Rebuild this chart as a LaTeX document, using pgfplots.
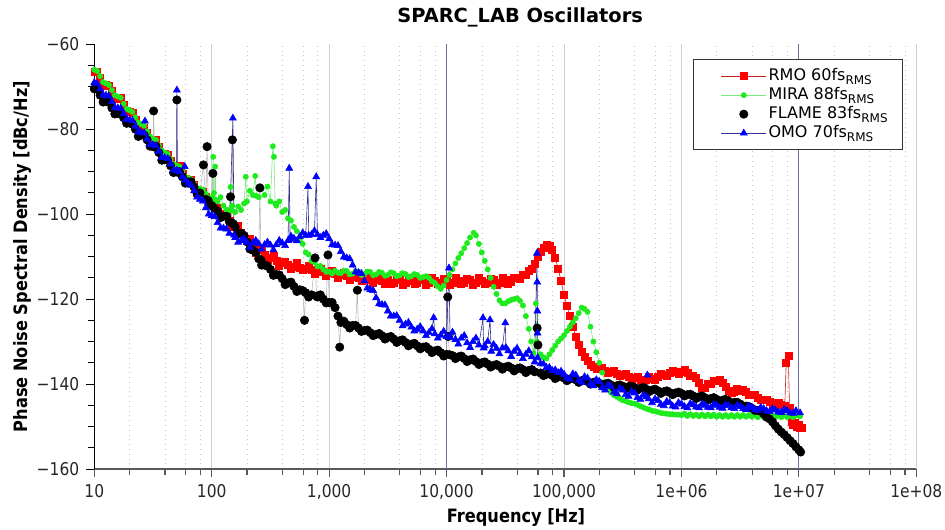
\documentclass[border=0pt]{standalone}
\usepackage{fontspec}
\setmainfont{DejaVu Sans}
\newfontfamily\condfont{DejaVu Sans}[FakeStretch=0.88]
\usepackage{pgfplots}
\pgfplotsset{compat=1.18}
\definecolor{rmoline}{RGB}{200,30,30}
\definecolor{miragreen}{RGB}{30,235,30}
\definecolor{miraline}{RGB}{120,235,120}
\definecolor{omoline}{RGB}{50,50,150}
\definecolor{omoblue}{RGB}{0,0,255}
\definecolor{majgrid}{RGB}{205,205,228}
\definecolor{darkgrid}{RGB}{110,110,160}
\begin{document}
\begin{tikzpicture}
\useasboundingbox (-47.15pt,-30pt) rectangle (425.35pt,234.5pt);
\begin{axis}[
  at={(0,0)}, anchor=south west,
  scale only axis, width=411pt, height=212.35pt,
  xmode=log, xmin=10, xmax=1e8, ymin=-160, ymax=-60,
  axis lines=left, axis line style={-},
  x axis line style={black!65, line width=0.7pt},
  y axis line style={black, line width=0.5pt},
  tick align=outside,
  major tick length=4pt, minor tick length=3pt,
  xtick={10,100,1000,10000,100000,1e6,1e7,1e8},
  xticklabels={10,100,{1,000},{10,000},{100,000},1e+06,1e+07,1e+08},
  minor xtick={20,40,60,80,200,400,600,800,2000,4000,6000,8000,2e4,4e4,6e4,8e4,2e5,4e5,6e5,8e5,2e6,4e6,6e6,8e6,2e7,4e7,6e7,8e7},
  ytick={-160,-140,-120,-100,-80,-60},
  yticklabels={−160,−140,−120,−100,−80,−60},
  minor ytick={-155,-150,-145,-135,-130,-125,-115,-110,-105,-95,-90,-85,-75,-70,-65},
  xtick style={black!65, line width=0.6pt},
  ytick style={black, line width=0.5pt},
  xmajorgrids=true, xminorgrids=true,
  major grid style={majgrid, line width=0.5pt},
  minor grid style={gray!50, dotted, line width=0.4pt},
  extra x ticks={1e4,1e7},
  extra x tick labels={},
  extra x tick style={grid=major, major grid style={darkgrid, line width=0.6pt}},
  tick label style={font=\condfont\fontsize{8.8}{10}\selectfont, black!85},
  every axis title shift=0pt,
  title={SPARC\_LAB Oscillators},
  title style={at={(axis description cs:0.518,1.051)}, anchor=base, yshift=0pt, inner sep=0pt, font=\bfseries\fontsize{9.7}{11}\selectfont},
  xlabel={Frequency [Hz]},
  xlabel style={at={(axis description cs:0.513,-0.125)}, anchor=base, inner sep=0pt, font=\condfont\bfseries\fontsize{9.2}{11}\selectfont},
  ylabel={Phase Noise Spectral Density [dBc/Hz]},
  ylabel style={at={(axis description cs:-0.0815,0.5)}, anchor=base, inner sep=0pt, font=\condfont\bfseries\fontsize{9.2}{11}\selectfont},
  legend style={at={(0.984,0.965)}, anchor=north east, draw=black!80, line width=0.5pt, fill=white,
    font=\fontsize{8}{9.5}\selectfont, inner xsep=6pt, inner ysep=3.5pt, row sep=0pt,
    cells={anchor=west}, nodes={inner sep=1pt, text height=6.0pt, text depth=1.5pt}},
  legend image code/.code={\path (-7.5pt,0pt) (22.5pt,0pt); \draw[mark repeat=2,mark phase=2,#1] plot coordinates {(0pt,0pt) (11.25pt,0pt) (22.5pt,0pt)};},
]
% RMO
\addplot[rmoline, line width=0.3pt, mark=square*, mark size=1.75pt, mark options={fill=red, draw=red, solid}] table {
1e1 -66.5
1.059e1 -66.4
1.122e1 -68.0
1.189e1 -69.7
1.259e1 -69.5
1.334e1 -69.7
1.413e1 -71.0
1.496e1 -72.6
1.585e1 -72.8
1.679e1 -72.5
1.778e1 -74.3
1.884e1 -75.6
1.995e1 -76.0
2.113e1 -76.2
2.239e1 -77.8
2.371e1 -79.6
2.512e1 -79.3
2.661e1 -79.6
2.818e1 -80.8
2.985e1 -82.5
3.162e1 -82.5
3.350e1 -82.5
3.548e1 -84.2
3.758e1 -86.0
3.981e1 -85.8
4.217e1 -86.0
4.467e1 -87.5
4.732e1 -89.0
5.012e1 -89.0
5.309e1 -88.7
5.623e1 -90.5
5.957e1 -91.7
6.310e1 -92.0
6.683e1 -91.9
7.079e1 -93.2
7.499e1 -94.9
7.943e1 -94.5
8.414e1 -94.7
8.913e1 -95.8
9.441e1 -97.3
1e2 -97.2
1.059e2 -97.0
1.122e2 -98.5
1.189e2 -100.2
1.259e2 -100.0
1.334e2 -100.2
1.413e2 -101.5
1.496e2 -103.0
1.585e2 -103.0
1.679e2 -102.7
1.778e2 -104.5
1.884e2 -105.7
1.995e2 -106.0
2.113e2 -105.9
2.239e2 -107.3
2.371e2 -109.0
2.512e2 -108.5
2.661e2 -108.5
2.818e2 -109.5
2.985e2 -110.7
3.162e2 -110.3
3.350e2 -109.8
3.548e2 -111.0
3.758e2 -112.2
3.981e2 -111.5
4.217e2 -111.2
4.467e2 -112.0
4.732e2 -112.9
5.012e2 -112.3
5.309e2 -111.5
5.623e2 -112.6
5.957e2 -113.2
6.310e2 -112.8
6.683e2 -112.2
7.079e2 -113.0
7.499e2 -114.0
7.943e2 -113.2
8.414e2 -112.9
8.913e2 -113.5
9.441e2 -114.5
1e3 -113.8
1.059e3 -113.3
1.122e3 -114.0
1.189e3 -114.9
1.259e3 -114.3
1.334e3 -113.9
1.413e3 -114.6
1.496e3 -115.4
1.585e3 -114.8
1.679e3 -114.3
1.778e3 -115.0
1.884e3 -115.8
1.995e3 -115.2
2.113e3 -114.7
2.239e3 -115.4
2.371e3 -116.2
2.512e3 -115.5
2.661e3 -115.0
2.818e3 -115.6
2.985e3 -116.3
3.162e3 -115.4
3.350e3 -116.5
3.548e3 -116.1
3.758e3 -115.1
3.981e3 -115.5
4.217e3 -116.6
4.467e3 -116.2
4.732e3 -115.0
5.012e3 -115.6
5.309e3 -116.5
5.623e3 -116.1
5.957e3 -115.1
6.310e3 -115.5
6.683e3 -116.6
7.079e3 -116.2
7.499e3 -115.0
7.943e3 -115.6
8.414e3 -116.5
8.913e3 -116.1
9.441e3 -115.1
1e4 -115.5
1.059e4 -116.6
1.122e4 -116.2
1.189e4 -115.0
1.259e4 -115.6
1.334e4 -116.5
1.413e4 -116.1
1.496e4 -115.1
1.585e4 -115.5
1.679e4 -116.6
1.778e4 -116.2
1.884e4 -115.0
1.995e4 -115.6
2.113e4 -116.5
2.239e4 -116.1
2.371e4 -115.1
2.512e4 -115.5
2.661e4 -116.6
2.818e4 -116.1
2.985e4 -115.0
3.162e4 -115.4
3.350e4 -116.4
3.548e4 -115.9
3.758e4 -114.9
3.981e4 -115.0
4.217e4 -115.3
4.467e4 -114.3
4.732e4 -114.3
5.012e4 -113.4
5.309e4 -112.8
5.623e4 -111.6
5.957e4 -110.0
6.310e4 -108.8
6.683e4 -107.8
7.079e4 -107.2
7.499e4 -107.4
7.943e4 -108.3
8.414e4 -110.2
8.913e4 -112.8
9.441e4 -115.8
1e5 -119.0
1.059e5 -121.6
1.122e5 -124.0
1.189e5 -126.5
1.259e5 -128.8
1.334e5 -130.7
1.413e5 -132.3
1.496e5 -133.6
1.585e5 -134.6
1.679e5 -135.4
1.778e5 -135.9
1.884e5 -136.4
1.995e5 -136.5
2.113e5 -136.2
2.239e5 -136.9
2.371e5 -137.4
2.512e5 -137.2
2.661e5 -136.9
2.818e5 -137.5
2.985e5 -138.1
3.162e5 -137.9
3.350e5 -137.6
3.548e5 -138.3
3.758e5 -138.9
3.981e5 -138.6
4.217e5 -138.3
4.467e5 -138.9
4.732e5 -139.4
5.012e5 -139.0
5.309e5 -138.4
5.623e5 -138.8
5.957e5 -139.0
6.310e5 -138.3
6.683e5 -137.6
7.079e5 -137.8
7.499e5 -138.0
7.943e5 -137.4
8.414e5 -136.8
8.913e5 -137.1
9.441e5 -137.5
1e6 -137.0
1.059e6 -136.7
1.122e6 -137.3
1.189e6 -138.0
1.259e6 -138.0
1.334e6 -138.6
1.413e6 -139.8
1.496e6 -140.8
1.585e6 -140.8
1.679e6 -140.0
1.778e6 -140.0
1.884e6 -139.3
1.995e6 -139.2
2.113e6 -139.0
2.239e6 -139.6
2.371e6 -140.7
2.512e6 -141.5
2.661e6 -142.1
2.818e6 -141.9
2.985e6 -141.1
3.162e6 -141.5
3.350e6 -141.4
3.548e6 -141.9
3.758e6 -142.5
3.981e6 -142.6
4.217e6 -142.6
4.467e6 -143.2
4.732e6 -143.8
5.012e6 -143.7
5.309e6 -143.6
5.623e6 -144.2
5.957e6 -144.7
6.310e6 -144.5
6.683e6 -144.4
7.079e6 -144.9
7.586e6 -145.2
7.80e6 -135.0
8.13e6 -133.4
8.32e6 -145.5
8.65e6 -148.8
8.913e6 -149.5
9.2e6 -149.2
9.55e6 -150.0
9.9e6 -149.6
1.023e7 -150.4
1.06e7 -150.2
};
\addlegendentry{RMO 60fs\textsubscript{RMS}}
% MIRA
\addplot[miraline, line width=0.3pt, mark=*, mark size=1.3pt, mark options={fill=miragreen, draw=miragreen, solid}] table {
1e1 -66.0
1.059e1 -66.3
1.122e1 -67.5
1.189e1 -68.9
1.259e1 -69.2
1.334e1 -69.6
1.413e1 -70.8
1.496e1 -72.0
1.585e1 -72.3
1.679e1 -72.6
1.778e1 -74.0
1.884e1 -75.2
1.995e1 -75.5
2.113e1 -75.9
2.239e1 -77.2
2.371e1 -78.4
2.512e1 -78.8
2.661e1 -79.2
2.818e1 -80.5
2.985e1 -81.7
3.162e1 -82.2
3.350e1 -82.5
3.548e1 -83.8
3.758e1 -85.0
3.981e1 -85.5
4.217e1 -85.8
4.467e1 -87.0
4.732e1 -88.2
5.012e1 -88.5
5.309e1 -88.8
5.623e1 -90.0
5.957e1 -91.2
6.310e1 -91.5
6.683e1 -91.8
7.079e1 -92.8
7.499e1 -94.0
7.943e1 -94.0
8.414e1 -94.2
8.913e1 -95.2
9.441e1 -96.2
1e2 -96.0
1.03e2 -86.5
1.045e2 -95.0
1.06e2 -96.5
1.07e2 -88.8
1.09e2 -96.8
1.122e2 -97.0
1.189e2 -96.0
1.259e2 -98.0
1.334e2 -99.0
1.413e2 -99.0
1.445e2 -93.6
1.47e2 -99.2
1.496e2 -98.0
1.585e2 -99.5
1.679e2 -98.2
1.778e2 -99.0
1.884e2 -97.5
1.950e2 -91.2
1.995e2 -97.0
2.113e2 -94.5
2.239e2 -95.5
2.344e2 -91.0
2.40e2 -95.7
2.512e2 -96.0
2.661e2 -94.0
2.818e2 -95.5
2.985e2 -93.5
3.162e2 -97.0
3.311e2 -84.0
3.388e2 -86.5
3.47e2 -97.5
3.548e2 -98.0
3.758e2 -97.0
3.981e2 -99.5
4.217e2 -99.0
4.467e2 -101.0
4.732e2 -101.5
5.012e2 -103.0
5.309e2 -104.0
5.623e2 -106.0
5.957e2 -107.0
6.310e2 -109.0
6.683e2 -109.5
7.079e2 -111.0
7.499e2 -111.3
7.943e2 -112.3
8.414e2 -112.2
8.913e2 -113.0
9.441e2 -113.6
1e3 -113.5
1.059e3 -114.0
1.122e3 -113.3
1.189e3 -113.8
1.259e3 -113.9
1.334e3 -113.3
1.413e3 -113.4
1.496e3 -114.2
1.585e3 -114.0
1.679e3 -113.5
1.778e3 -113.5
1.884e3 -114.3
1.995e3 -114.1
2.113e3 -113.5
2.239e3 -113.6
2.371e3 -114.4
2.512e3 -114.2
2.661e3 -113.6
2.818e3 -113.8
2.985e3 -114.5
3.162e3 -114.3
3.350e3 -113.7
3.548e3 -113.9
3.758e3 -114.6
3.981e3 -114.4
4.217e3 -113.9
4.467e3 -114.1
4.732e3 -114.8
5.012e3 -114.6
5.309e3 -114.1
5.623e3 -114.3
5.957e3 -115.0
6.310e3 -114.8
6.683e3 -114.6
7.079e3 -115.0
7.499e3 -115.8
7.943e3 -116.2
8.414e3 -117.0
8.913e3 -117.6
9.441e3 -116.8
1e4 -115.5
1.059e4 -114.3
1.122e4 -113.0
1.189e4 -111.6
1.259e4 -110.3
1.334e4 -109.2
1.413e4 -108.0
1.496e4 -106.8
1.585e4 -105.5
1.70e4 -104.4
1.778e4 -105.0
1.884e4 -107.0
1.995e4 -109.0
2.113e4 -111.0
2.239e4 -113.0
2.371e4 -115.0
2.512e4 -117.1
2.661e4 -118.8
2.818e4 -120.3
2.985e4 -121.0
3.162e4 -121.0
3.350e4 -120.5
3.548e4 -120.2
3.758e4 -120.0
3.981e4 -119.8
4.217e4 -120.4
4.467e4 -121.5
4.732e4 -124.0
5.012e4 -127.0
5.25e4 -130.0
5.50e4 -132.7
5.75e4 -121.0
5.90e4 -130.0
6.310e4 -133.0
6.683e4 -133.7
7.079e4 -134.0
7.499e4 -133.0
7.943e4 -132.0
8.414e4 -131.0
8.913e4 -130.0
9.441e4 -129.3
1e5 -128.5
1.059e5 -127.5
1.122e5 -126.5
1.189e5 -125.5
1.259e5 -124.5
1.334e5 -123.3
1.413e5 -122.0
1.496e5 -122.3
1.585e5 -123.0
1.679e5 -126.5
1.778e5 -130.0
1.884e5 -132.5
1.995e5 -135.0
2.113e5 -137.3
2.239e5 -139.5
2.371e5 -141.0
2.512e5 -142.0
2.661e5 -142.6
2.818e5 -143.0
2.985e5 -143.4
3.162e5 -143.8
3.350e5 -144.0
3.548e5 -144.3
3.758e5 -144.5
3.981e5 -144.6
4.217e5 -144.9
4.467e5 -145.2
4.732e5 -145.5
5.012e5 -145.8
5.309e5 -146.0
5.623e5 -146.3
5.957e5 -146.4
6.310e5 -146.6
6.683e5 -146.8
7.079e5 -146.9
7.499e5 -147.0
7.943e5 -147.1
8.414e5 -147.1
8.913e5 -147.2
9.441e5 -147.2
1e6 -147.3
1.059e6 -147.0
1.122e6 -147.5
1.189e6 -147.1
1.259e6 -147.5
1.334e6 -147.2
1.413e6 -147.6
1.496e6 -147.2
1.585e6 -147.6
1.679e6 -147.2
1.778e6 -147.6
1.884e6 -147.2
1.995e6 -147.7
2.113e6 -147.3
2.239e6 -147.7
2.371e6 -147.3
2.512e6 -147.7
2.661e6 -147.3
2.818e6 -147.7
2.985e6 -147.3
3.162e6 -147.7
3.350e6 -147.3
3.548e6 -147.7
3.758e6 -147.3
3.981e6 -147.7
4.217e6 -147.3
4.467e6 -147.8
4.732e6 -147.4
5.012e6 -147.8
5.309e6 -147.4
5.623e6 -147.8
5.957e6 -147.4
6.310e6 -147.8
6.683e6 -147.4
7.079e6 -147.8
7.499e6 -147.4
7.943e6 -147.8
8.414e6 -147.4
8.913e6 -147.8
9.441e6 -147.4
1.023e7 -147.6
};
\addlegendentry{MIRA 88fs\textsubscript{RMS}}
% FLAME
\addplot[gray!55, line width=0.3pt, mark=*, mark size=2.1pt, mark options={fill=black, draw=black, solid},
  legend image code/.code={\path (-7.5pt,0pt) (22.5pt,0pt); \draw[black, mark=*, mark size=2.1pt] plot coordinates {(11.25pt,0pt)};}] table {
1e1 -70.5
1.059e1 -70.6
1.122e1 -72.0
1.189e1 -73.6
1.259e1 -73.5
1.334e1 -73.7
1.413e1 -75.0
1.496e1 -76.4
1.585e1 -76.3
1.679e1 -76.2
1.778e1 -77.3
1.884e1 -78.6
1.995e1 -78.5
2.113e1 -78.8
2.239e1 -80.0
2.371e1 -81.7
2.512e1 -81.2
2.661e1 -81.4
2.818e1 -82.5
2.985e1 -84.0
3.162e1 -84.0
3.20e1 -75.7
3.25e1 -84.2
3.350e1 -84.0
3.548e1 -85.5
3.758e1 -87.3
3.981e1 -87.2
4.217e1 -87.3
4.467e1 -88.6
4.732e1 -90.2
5.012e1 -90.0
5.05e1 -73.1
5.10e1 -90.1
5.309e1 -90.0
5.623e1 -91.2
5.957e1 -92.7
6.310e1 -92.4
6.683e1 -92.4
7.079e1 -93.6
7.499e1 -95.2
7.943e1 -95.0
8.50e1 -88.4
8.913e1 -96.5
9.12e1 -84.1
9.33e1 -96.8
1e2 -98.0
1.023e2 -90.4
1.05e2 -98.6
1.122e2 -99.3
1.189e2 -100.8
1.259e2 -100.5
1.334e2 -100.5
1.413e2 -101.8
1.445e2 -95.9
1.47e2 -102.0
1.50e2 -82.5
1.53e2 -102.3
1.585e2 -103.0
1.679e2 -104.6
1.778e2 -104.5
1.884e2 -105.0
1.995e2 -106.5
2.113e2 -108.2
2.239e2 -108.5
2.371e2 -109.0
2.512e2 -110.5
2.57e2 -93.8
2.63e2 -110.8
2.661e2 -112.0
2.818e2 -112.0
2.985e2 -112.2
3.162e2 -113.0
3.350e2 -114.4
3.548e2 -114.2
3.758e2 -114.3
3.981e2 -115.2
4.217e2 -116.6
4.467e2 -116.2
4.732e2 -116.0
5.012e2 -117.0
5.309e2 -118.2
5.623e2 -117.8
5.957e2 -118.0
6.166e2 -125.0
6.310e2 -118.5
6.683e2 -119.5
7.079e2 -119.0
7.586e2 -110.3
7.80e2 -119.3
7.943e2 -119.5
8.414e2 -119.0
8.913e2 -120.0
9.441e2 -120.9
9.77e2 -109.6
1e3 -120.8
1.059e3 -120.8
1.122e3 -122.0
1.189e3 -124.0
1.23e3 -131.3
1.259e3 -125.5
1.334e3 -125.2
1.413e3 -126.0
1.496e3 -126.8
1.585e3 -126.2
1.679e3 -126.2
1.738e3 -117.9
1.778e3 -126.8
1.884e3 -127.6
1.995e3 -127.4
2.113e3 -127.3
2.239e3 -127.9
2.371e3 -128.6
2.512e3 -128.3
2.661e3 -128.1
2.818e3 -128.6
2.985e3 -129.4
3.162e3 -129.0
3.350e3 -128.8
3.548e3 -129.4
3.758e3 -130.2
3.981e3 -129.8
4.217e3 -129.6
4.467e3 -130.2
4.732e3 -131.0
5.012e3 -130.6
5.309e3 -130.4
5.623e3 -131.0
5.957e3 -131.7
6.310e3 -131.3
6.683e3 -131.2
7.079e3 -131.8
7.499e3 -132.6
7.943e3 -132.2
8.414e3 -132.0
8.913e3 -132.6
9.441e3 -133.4
1e4 -133.0
1.023e4 -119.5
1.035e4 -128.8
1.06e4 -133.1
1.122e4 -133.3
1.189e4 -134.0
1.259e4 -133.6
1.334e4 -133.4
1.413e4 -134.0
1.496e4 -134.7
1.585e4 -134.3
1.679e4 -134.1
1.778e4 -134.7
1.884e4 -135.4
1.995e4 -135.0
2.113e4 -134.8
2.239e4 -135.3
2.371e4 -136.0
2.512e4 -135.6
2.661e4 -135.4
2.818e4 -135.8
2.985e4 -136.5
3.162e4 -136.0
3.350e4 -135.8
3.548e4 -136.2
3.758e4 -136.9
3.981e4 -136.4
4.217e4 -136.2
4.467e4 -136.6
4.732e4 -137.3
5.012e4 -136.8
5.309e4 -136.6
5.623e4 -137.1
5.90e4 -126.8
6.00e4 -130.8
6.310e4 -137.4
6.683e4 -138.0
7.079e4 -137.7
7.499e4 -137.5
7.943e4 -138.0
8.414e4 -138.7
8.913e4 -138.3
9.441e4 -138.1
1e5 -138.6
1.059e5 -139.2
1.122e5 -138.8
1.189e5 -138.6
1.259e5 -139.0
1.334e5 -139.6
1.413e5 -139.2
1.496e5 -139.0
1.585e5 -139.4
1.679e5 -140.0
1.778e5 -139.6
1.884e5 -139.4
1.995e5 -139.8
2.113e5 -140.4
2.239e5 -140.0
2.371e5 -139.8
2.512e5 -140.2
2.661e5 -140.8
2.818e5 -140.4
2.985e5 -140.2
3.162e5 -140.5
3.350e5 -141.1
3.548e5 -140.6
3.758e5 -140.5
3.981e5 -140.8
4.217e5 -141.4
4.467e5 -141.0
4.732e5 -140.8
5.012e5 -141.2
5.309e5 -141.8
5.623e5 -141.4
5.957e5 -141.2
6.310e5 -141.6
6.683e5 -142.2
7.079e5 -141.8
7.499e5 -141.6
7.943e5 -142.0
8.414e5 -142.5
8.913e5 -142.1
9.441e5 -141.9
1e6 -142.2
1.059e6 -142.8
1.122e6 -142.5
1.189e6 -142.4
1.259e6 -142.8
1.334e6 -143.4
1.413e6 -143.0
1.496e6 -142.8
1.585e6 -143.2
1.679e6 -143.8
1.778e6 -143.4
1.884e6 -143.2
1.995e6 -143.6
2.113e6 -144.1
2.239e6 -143.8
2.371e6 -143.6
2.512e6 -144.0
2.661e6 -144.5
2.818e6 -144.3
2.985e6 -144.3
3.162e6 -144.7
3.350e6 -145.2
3.548e6 -145.2
3.758e6 -145.3
3.981e6 -145.7
4.217e6 -146.2
4.467e6 -146.2
4.732e6 -146.4
5.012e6 -147.0
5.309e6 -147.8
5.623e6 -148.2
5.957e6 -148.9
6.310e6 -149.8
6.683e6 -150.6
7.079e6 -151.3
7.499e6 -151.9
7.943e6 -152.6
8.414e6 -153.3
8.913e6 -154.0
9.441e6 -154.8
1e7 -155.5
1.035e7 -156.0
};
\addlegendentry{FLAME 83fs\textsubscript{RMS}}
% OMO
\addplot[omoline, line width=0.3pt, mark=triangle*, mark size=2pt, mark options={fill=omoblue, draw=omoblue, solid}] table {
1e1 -69.0
1.059e1 -69.3
1.122e1 -70.5
1.189e1 -71.9
1.259e1 -72.0
1.334e1 -72.2
1.413e1 -73.5
1.496e1 -74.9
1.585e1 -75.0
1.679e1 -75.1
1.778e1 -76.3
1.884e1 -77.7
1.995e1 -77.8
2.113e1 -78.0
2.239e1 -79.3
2.371e1 -80.6
2.512e1 -80.8
2.661e1 -80.9
2.70e1 -78.1
2.818e1 -82.3
2.985e1 -83.6
3.162e1 -83.7
3.350e1 -83.9
3.548e1 -85.2
3.758e1 -86.6
3.981e1 -86.7
4.217e1 -86.9
4.467e1 -88.2
4.732e1 -89.6
5.012e1 -89.7
5.05e1 -70.8
5.10e1 -89.8
5.309e1 -90.0
5.623e1 -91.2
5.89e1 -88.8
5.957e1 -92.0
6.310e1 -92.7
6.683e1 -93.2
7.079e1 -94.5
7.499e1 -96.0
7.943e1 -96.5
8.414e1 -96.9
8.913e1 -98.5
9.441e1 -100.0
1e2 -100.3
1.059e2 -100.6
1.122e2 -102.0
1.189e2 -103.3
1.259e2 -103.3
1.334e2 -103.5
1.413e2 -104.5
1.514e2 -77.4
1.55e2 -104.9
1.585e2 -105.5
1.679e2 -106.6
1.778e2 -106.2
1.884e2 -105.8
1.995e2 -106.6
2.113e2 -107.8
2.239e2 -106.8
2.371e2 -106.2
2.512e2 -107.0
2.661e2 -108.2
2.818e2 -107.2
2.985e2 -106.6
3.162e2 -107.3
3.350e2 -108.4
3.548e2 -107.2
3.758e2 -106.2
3.981e2 -106.8
4.217e2 -107.4
4.467e2 -106.2
4.571e2 -89.2
4.65e2 -106.0
4.732e2 -105.2
5.012e2 -105.7
5.309e2 -106.3
5.623e2 -105.3
5.957e2 -104.4
6.310e2 -105.0
6.607e2 -93.5
6.70e2 -105.0
7.079e2 -104.8
7.499e2 -103.9
7.762e2 -91.2
7.943e2 -104.8
8.414e2 -105.5
8.913e2 -105.0
9.441e2 -104.6
1e3 -105.8
1.059e3 -107.2
1.122e3 -107.3
1.189e3 -107.4
1.259e3 -108.8
1.334e3 -110.1
1.413e3 -110.3
1.496e3 -110.5
1.585e3 -112.0
1.679e3 -113.6
1.778e3 -113.8
1.884e3 -114.0
1.995e3 -115.7
2.113e3 -117.4
2.239e3 -117.8
2.371e3 -118.0
2.512e3 -119.7
2.661e3 -121.1
2.818e3 -121.3
2.985e3 -121.4
3.162e3 -122.8
3.350e3 -124.0
3.548e3 -124.0
3.758e3 -123.9
3.981e3 -125.0
4.217e3 -126.3
4.467e3 -125.9
4.732e3 -125.5
5.012e3 -126.6
5.309e3 -127.5
5.623e3 -127.1
5.957e3 -126.5
6.310e3 -127.5
6.683e3 -128.6
7.079e3 -127.9
7.499e3 -127.0
7.762e3 -124.4
7.943e3 -128.2
8.414e3 -129.2
8.913e3 -128.5
9.441e3 -127.6
1e4 -128.8
1.047e4 -112.7
1.07e4 -129.0
1.122e4 -127.8
1.189e4 -129.5
1.259e4 -130.6
1.334e4 -129.2
1.413e4 -128.6
1.496e4 -130.3
1.585e4 -131.4
1.679e4 -130.0
1.778e4 -129.2
1.884e4 -130.8
2.042e4 -124.4
2.07e4 -131.5
2.113e4 -131.0
2.239e4 -130.0
2.344e4 -124.9
2.40e4 -132.3
2.512e4 -130.7
2.661e4 -131.6
2.818e4 -132.9
2.985e4 -131.5
3.162e4 -125.6
3.20e4 -131.4
3.350e4 -132.2
3.548e4 -133.5
3.758e4 -132.3
3.981e4 -131.6
4.217e4 -132.8
4.467e4 -134.0
4.732e4 -133.0
5.012e4 -132.2
5.309e4 -133.6
5.623e4 -134.8
5.888e4 -109.2
5.91e4 -116.0
5.93e4 -122.8
5.95e4 -128.0
5.957e4 -133.8
6.310e4 -135.2
6.683e4 -135.3
7.079e4 -136.1
7.499e4 -136.1
7.943e4 -136.8
8.414e4 -136.7
8.913e4 -137.3
9.441e4 -137.0
1e5 -137.7
1.059e5 -138.6
1.122e5 -138.9
1.189e5 -137.6
1.259e5 -137.9
1.334e5 -139.2
1.413e5 -139.6
1.496e5 -138.3
1.585e5 -138.6
1.679e5 -140.0
1.778e5 -140.4
1.884e5 -139.0
1.995e5 -139.4
2.113e5 -140.9
2.239e5 -141.4
2.371e5 -140.2
2.512e5 -140.6
2.661e5 -141.9
2.818e5 -142.3
2.985e5 -141.0
3.162e5 -141.4
3.350e5 -142.5
3.548e5 -142.9
3.758e5 -141.8
3.981e5 -142.1
4.217e5 -143.2
4.467e5 -143.6
4.732e5 -142.6
5.012e5 -143.0
5.129e5 -137.9
5.25e5 -143.5
5.623e5 -144.4
5.957e5 -143.5
6.310e5 -143.9
6.683e5 -144.8
7.079e5 -145.1
7.499e5 -144.1
7.943e5 -144.4
8.414e5 -145.2
8.913e5 -145.4
9.441e5 -144.4
1e6 -144.7
1.059e6 -145.3
1.122e6 -145.6
1.189e6 -144.6
1.259e6 -144.9
1.334e6 -145.4
1.413e6 -145.6
1.496e6 -144.7
1.585e6 -145.0
1.679e6 -145.5
1.778e6 -145.6
1.884e6 -144.8
1.995e6 -145.0
2.113e6 -145.5
2.239e6 -145.7
2.371e6 -144.9
2.512e6 -145.1
2.661e6 -145.6
2.818e6 -145.8
2.985e6 -145.0
3.162e6 -145.3
3.350e6 -145.8
3.548e6 -146.0
3.758e6 -145.2
3.981e6 -145.5
4.217e6 -146.0
4.467e6 -146.2
4.732e6 -145.5
5.012e6 -145.8
5.309e6 -146.3
5.623e6 -146.5
5.957e6 -145.8
6.310e6 -146.1
6.683e6 -146.6
7.079e6 -146.7
7.499e6 -146.0
7.943e6 -146.3
8.414e6 -146.8
8.913e6 -146.9
9.441e6 -146.3
1.023e7 -146.8
};
\addlegendentry{OMO 70fs\textsubscript{RMS}}
\end{axis}
\end{tikzpicture}
\end{document}
